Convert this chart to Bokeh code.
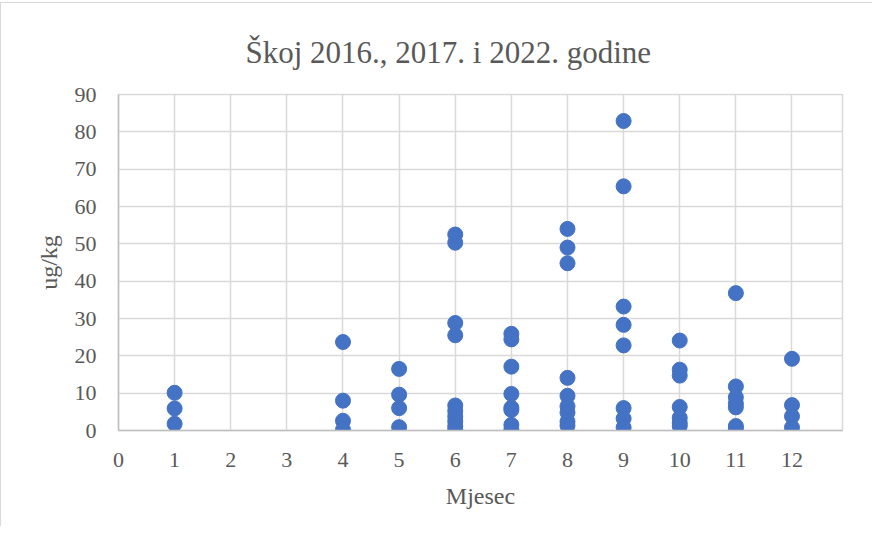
from bokeh.plotting import figure
from bokeh.models import FixedTicker, Range1d
from bokeh.embed import file_html
from bokeh.resources import INLINE

# Data
mjesec = [1, 1, 1,
          4, 4, 4, 4,
          5, 5, 5, 5,
          6, 6, 6, 6, 6, 6, 6, 6, 6, 6,
          7, 7, 7, 7, 7, 7, 7, 7,
          8, 8, 8, 8, 8, 8, 8, 8, 8,
          9, 9, 9, 9, 9, 9, 9, 9,
          10, 10, 10, 10, 10, 10, 10,
          11, 11, 11, 11, 11, 11, 11,
          12, 12, 12, 12]
ug_kg = [10.1, 5.9, 1.8,
         23.7, 8.0, 2.6, 0.2,
         16.5, 9.6, 6.0, 0.9,
         52.5, 50.3, 28.8, 25.5, 6.7, 5.2, 3.8, 2.5, 1.2, 0.2,
         25.9, 24.4, 17.1, 9.8, 6.1, 5.5, 1.5, 0.2,
         54.0, 49.0, 44.8, 14.1, 9.3, 6.5, 4.8, 2.4, 1.3,
         82.9, 65.4, 33.2, 28.3, 22.8, 6.0, 3.2, 0.8,
         24.1, 16.3, 14.7, 6.3, 3.4, 2.0, 1.2,
         36.8, 11.8, 8.9, 7.2, 6.2, 1.2, 0.5,
         19.2, 6.8, 3.8, 0.8]
x_ticks = list(range(0, 13))
y_ticks = list(range(0, 100, 10))
title_text = "Škoj 2016., 2017. i 2022. godine"

FONT = "Liberation Serif"
GREY = "#595959"

p = figure(width=872, height=524, output_backend="svg", toolbar_location=None,
           x_range=Range1d(0, 12.9), y_range=Range1d(0, 90),
           min_border_left=117, min_border_right=31, min_border_top=91,
           min_border_bottom=97, title=title_text)

p.title.align = "left"
p.title.offset = 127
p.title.text_font = FONT
p.title.text_font_size = "31px"
p.title.text_font_style = "normal"
p.title.text_color = GREY
p.title.vertical_align = "top"
p.title.standoff = 46

p.scatter(mjesec, ug_kg, size=15, color="#4472C4", line_color="#4472C4")

p.xaxis.ticker = FixedTicker(ticks=x_ticks)
p.yaxis.ticker = FixedTicker(ticks=y_ticks)
p.xgrid.ticker = FixedTicker(ticks=x_ticks)
p.ygrid.ticker = FixedTicker(ticks=y_ticks)
p.grid.grid_line_color = "#d9d9d9"
p.grid.grid_line_width = 1.5

for ax in (p.xaxis, p.yaxis):
    ax.axis_line_color = "#bfbfbf"
    ax.axis_line_width = 1.5
    ax.major_tick_line_color = None
    ax.minor_tick_line_color = None
    ax.major_label_text_font = FONT
    ax.major_label_text_font_size = "22px"
    ax.major_label_text_color = GREY
    ax.axis_label_text_font = FONT
    ax.axis_label_text_font_size = "24px"
    ax.axis_label_text_font_style = "normal"
    ax.axis_label_text_color = GREY

p.xaxis.axis_label = "Mjesec"
p.yaxis.axis_label = "ug/kg"
p.xaxis.major_label_standoff = 16
p.yaxis.major_label_standoff = 16
p.xaxis.axis_label_standoff = 13
p.yaxis.axis_label_standoff = 10

p.outline_line_color = "#d9d9d9"
p.outline_line_width = 1.5
p.styles = {"border-left": "1px solid #d9d9d9", "border-top": "1px solid #d9d9d9",
            "margin-top": "2px"}

open("out.html", "w").write(file_html(p, INLINE))
